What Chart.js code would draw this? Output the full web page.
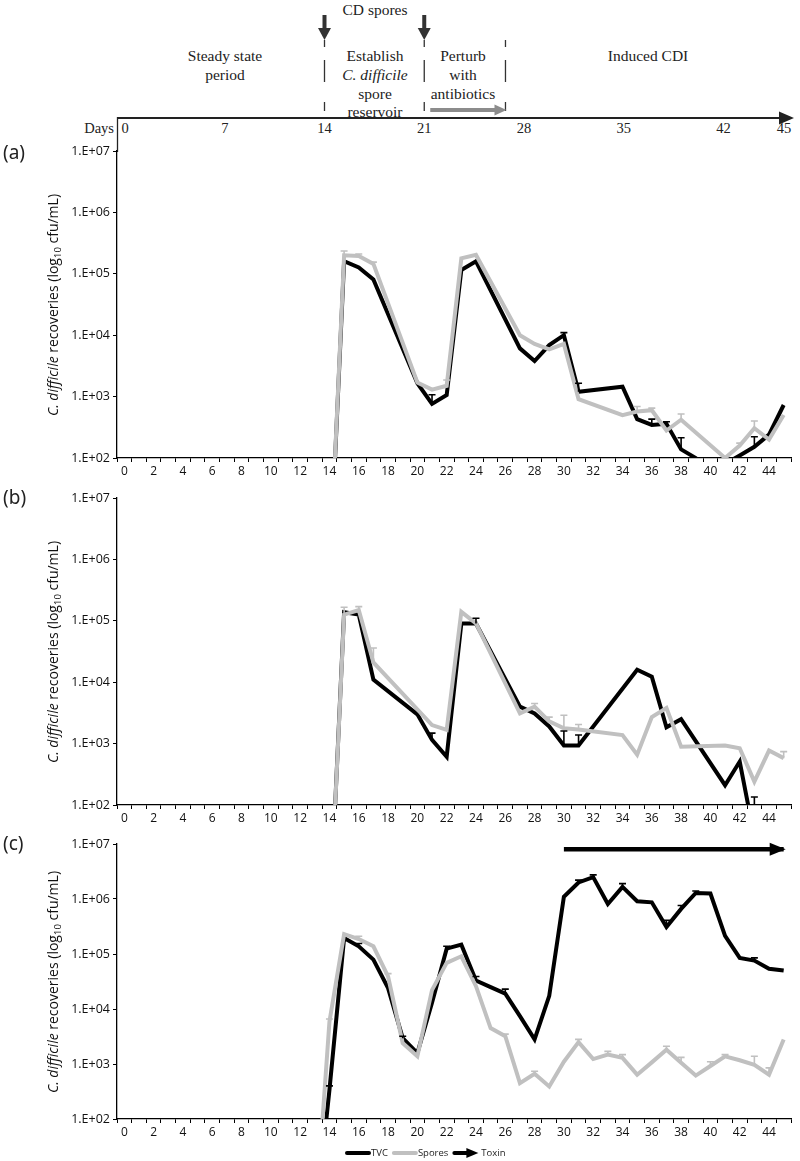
<!DOCTYPE html>
<html><head><meta charset="utf-8">
<script src="https://cdn.jsdelivr.net/npm/chart.js@4.4.1/dist/chart.umd.min.js"></script>
<style>
html,body{margin:0;padding:0;background:#fff;}
#page{position:relative;width:800px;height:1161px;overflow:hidden;background:#fff;}
#timeline{position:absolute;left:0;top:0;}
.cv{position:absolute;left:0;}
.plabel{position:absolute;left:3px;font-family:'Noto Sans',sans-serif;font-size:19px;line-height:20px;color:#222;}
.ytitle{position:absolute;left:54px;white-space:nowrap;font-family:'Open Sans',sans-serif;font-size:14px;line-height:16px;color:#111;transform:translate(-50%,-50%) rotate(-90deg);}
.ytitle .sub{font-size:9.5px;position:relative;top:3px;}
</style></head>
<body><div id="page">
<svg id="timeline" width="800" height="152" xmlns="http://www.w3.org/2000/svg"></svg>
<canvas id="ca" class="cv" width="800" height="340" style="top:140px"></canvas>
<canvas id="cb" class="cv" width="800" height="347" style="top:480px"></canvas>
<canvas id="cc" class="cv" width="800" height="334" style="top:827px"></canvas>
<div class="plabel" style="top:142px">(a)</div>
<div class="plabel" style="top:487px">(b)</div>
<div class="plabel" style="top:833px">(c)</div>
<div class="ytitle" style="top:305px"><i>C. difficile</i> recoveries (log<span class="sub">10</span> cfu/mL)</div>
<div class="ytitle" style="top:652px"><i>C. difficile</i> recoveries (log<span class="sub">10</span> cfu/mL)</div>
<div class="ytitle" style="top:982px"><i>C. difficile</i> recoveries (log<span class="sub">10</span> cfu/mL)</div>
</div>
<script>
// ---------------- data ----------------
const days = [0,1,2,3,4,5,6,7,8,9,10,11,12,13,14,15,16,17,18,19,20,21,22,23,24,25,26,27,28,29,30,31,32,33,34,35,36,37,38,39,40,41,42,43,44,45];
const yTickValues = [1e2, 1e3, 1e4, 1e5, 1e6, 1e7];
const yTickLabels = ['1.E+02','1.E+03','1.E+04','1.E+05','1.E+06','1.E+07'];
const timelineDays = [0, 7, 14, 21, 28, 35, 42, 45];
const seriesNames = ['TVC', 'Spores', 'Toxin'];

// panel (a)   (index = day)
const tvcA    = [null,null,null,null,null,null,null,null,null,null,null,null,null,null,1, 1.6e5, 1.27e5, 8.1e4, null,null,1.65e3,7.6e2,1.06e3,1.15e5,1.6e5, null,null,6.1e3, 3.8e3, 6.9e3, 1.0e4, 1.2e3, null,null,1.45e3,4.3e2,3.45e2,3.6e2,1.38e2,1.0e2,60, 80, 110, 1.52e2,2.4e2,7.3e2];
const sporesA = [null,null,null,null,null,null,null,null,null,null,null,null,null,null,1, 2.0e5, 1.95e5, 1.45e5,null,null,1.7e3, 1.3e3, 1.5e3, 1.78e5,2.03e5,null,null,1.0e4, 7.2e3, 5.9e3, 7.2e3, 9.1e2, null,null,5.0e2, 5.7e2,6.0e2, 2.8e2,4.2e2, null, null,1.0e2,1.6e2,3.05e2,2.0e2,5.0e2];
// panel (b)
const tvcB    = [null,null,null,null,null,null,null,null,null,null,null,null,null,null,1, 1.38e5,1.26e5, 1.1e4, null,null,3.0e3, 1.15e3,6.1e2, 9.0e4, 9.0e4, null,null,4.0e3, 3.1e3, 1.9e3, 9.3e2, 9.3e2, null,null,null, 1.6e4,1.23e4,1.85e3,2.5e3,null, null,2.1e2,5.1e2,30, null, null];
const sporesB = [null,null,null,null,null,null,null,null,null,null,null,null,null,null,1, 1.26e5,1.5e5,  2.1e4, null,null,null,  2.0e3, 1.67e3,1.4e5, 9.1e4, null,null,3.1e3, 4.0e3, 2.3e3, 1.78e3,1.7e3, null,null,1.38e3,6.6e2,2.7e3, 3.8e3,8.9e2, null, null,9.3e2,8.4e2,2.4e2,7.7e2,5.8e2];
// panel (c)
const tvcC    = [null,null,null,null,null,null,null,null,null,null,null,null,null,1, 3.4e2,1.95e5,1.38e5, 7.9e4, 2.4e4,2.95e3,1.58e3,1.3e4,1.25e5,1.48e5,3.3e4, 2.5e4,1.9e4,7.4e3, 2.8e3, 1.74e4,1.1e6, 2.0e6, 2.5e6,8.1e5,1.66e6,9.1e5,8.7e5,3.1e5,6.6e5,1.29e6,1.26e6,2.14e5,8.5e4,7.6e4,5.4e4,5.0e4];
const sporesC = [null,null,null,null,null,null,null,null,null,null,null,null,null,1, 5.9e3,2.3e5, 1.87e5, 1.38e5,3.9e4,2.4e3, 1.38e3,2.2e4,6.9e4, 9.1e4, 2.6e4, 4.5e3,3.2e3,4.5e2, 6.65e2,3.9e2, 1.1e3, 2.5e3, 1.23e3,1.48e3,1.29e3,6.4e2,1.07e3,1.82e3,1.05e3,6.15e2,9.2e2,1.38e3,1.17e3,9.7e2,6.4e2,2.8e3];
const toxinStart = 30, toxinEnd = 45, toxinLevel = 8e6;

// upper ends of error bars: [day, upper value]
const tvcErrA    = [[21,1.07e3],[30,1.1e4],[31,1.65e3],[36,4.3e2],[37,3.9e2],[38,2.14e2],[43,2.22e2]];
const sporesErrA = [[15,2.35e5],[16,2.1e5],[17,1.55e5],[22,1.86e3],[35,6.9e2],[36,6.5e2],[38,5.2e2],[42,1.75e2],[43,4.0e2]];
const tvcErrB    = [[21,1.48e3],[24,1.1e5],[30,1.6e3],[31,1.38e3],[43,1.35e2]];
const sporesErrB = [[15,1.66e5],[16,1.7e5],[17,3.6e4],[28,4.5e3],[29,2.7e3],[30,2.9e3],[31,2.05e3],[45,7.4e2]];
const tvcErrC    = [[14,4.0e2],[16,1.55e5],[19,3.2e3],[22,1.38e5],[24,3.9e4],[26,2.3e4],[31,2.2e6],[32,2.75e6],[34,1.9e6],[37,4.1e5],[38,7.6e5],[39,1.4e6],[43,8.5e4]];
const sporesErrC = [[14,6.6e3],[16,2.1e5],[18,4.4e4],[26,3.5e3],[28,7.4e2],[31,2.8e3],[33,1.7e3],[34,1.48e3],[37,2.1e3],[38,1.32e3],[40,1.1e3],[41,1.48e3],[43,1.38e3],[44,8.5e2]];

// ---------------- timeline (schematic) ----------------
(function(){
  const NS = 'http://www.w3.org/2000/svg';
  const svg = document.getElementById('timeline');
  const dayX = d => d === 45 ? 784 : 125 + d * 14.25;
  function el(tag, attrs, text){
    const e = document.createElementNS(NS, tag);
    for (const k in attrs) e.setAttribute(k, attrs[k]);
    if (text !== undefined) e.textContent = text;
    svg.appendChild(e); return e;
  }
  const serif = "'Liberation Serif','Times New Roman',serif";
  function txt(x, y, s, extra){ return el('text', Object.assign({x:x, y:y, 'text-anchor':'middle', 'font-family':serif, 'font-size':15.5, fill:'#222'}, extra||{}), s); }
  txt(375, 15, 'CD spores');
  [14, 21].forEach(d => {
    const x = dayX(d);
    el('line', {x1:x, y1:15, x2:x, y2:30, stroke:'#333', 'stroke-width':4});
    el('polygon', {points:`${x-6.5},28 ${x+6.5},28 ${x},40`, fill:'#333'});
  });
  [14, 21, 26.7].forEach(d => {
    const x = dayX(d);
    el('line', {x1:x, y1:40, x2:x, y2:111, stroke:'#333', 'stroke-width':1.3, 'stroke-dasharray':'7 13 22 20 9'});
  });
  txt(225, 61, 'Steady state'); txt(225, 80, 'period');
  txt(375, 61, 'Establish'); txt(375, 80, 'C. difficile', {'font-style':'italic'}); txt(375, 98.5, 'spore'); txt(375, 117, 'reservoir');
  txt(463, 61, 'Perturb'); txt(463, 80, 'with'); txt(463, 98.5, 'antibiotics');
  txt(648, 61, 'Induced CDI');
  // antibiotic arrow
  el('line', {x1:dayX(21)+6, y1:110, x2:dayX(26.7)-9, y2:110, stroke:'#8c8c8c', 'stroke-width':4});
  el('polygon', {points:`${dayX(26.7)-11},104.5 ${dayX(26.7)-11},115.5 ${dayX(26.7)+1},110`, fill:'#8c8c8c'});
  // days axis
  el('line', {x1:117.5, y1:118, x2:782, y2:118, stroke:'#222', 'stroke-width':2});
  el('polygon', {points:`779,111.5 779,124.5 794,118`, fill:'#222'});
  el('line', {x1:117.5, y1:117, x2:117.5, y2:152, stroke:'#222', 'stroke-width':1.3});
  el('text', {x:114, y:133, 'text-anchor':'end', 'font-family':serif, 'font-size':14.5, fill:'#222'}, 'Days');
  timelineDays.forEach(d => txt(dayX(d), 133, String(d), {'font-size':14.5}));
})();

// ---------------- charts ----------------
Chart.defaults.font.family = "'Open Sans', sans-serif";
Chart.defaults.color = '#111';

const errorBars = {
  id: 'errorBars',
  afterDatasetsDraw(chart) {
    const {ctx, chartArea: a, scales: {x, y}} = chart;
    ctx.save();
    ctx.beginPath(); ctx.rect(a.left, a.top - 3, a.right - a.left, a.bottom - a.top + 3); ctx.clip();
    chart.data.datasets.forEach(ds => {
      if (!ds.errs) return;
      ctx.strokeStyle = ds.borderColor; ctx.lineWidth = 1.6;
      ds.errs.forEach(([d, up]) => {
        const v = ds.data[d]; if (v == null) return;
        const px = x.getPixelForValue(d), p0 = y.getPixelForValue(v), p1 = y.getPixelForValue(up);
        ctx.beginPath(); ctx.moveTo(px, p0); ctx.lineTo(px, p1);
        ctx.moveTo(px - 3.5, p1); ctx.lineTo(px + 3.5, p1); ctx.stroke();
      });
    });
    ctx.restore();
  }
};

const arrowHeads = {
  id: 'arrowHeads',
  afterDatasetsDraw(chart) {
    const ctx = chart.ctx;
    chart.data.datasets.forEach((ds, i) => {
      if (!ds.arrow) return;
      const meta = chart.getDatasetMeta(i);
      let last = null;
      ds.data.forEach((v, j) => { if (v != null) last = meta.data[j]; });
      if (!last) return;
      ctx.save(); ctx.fillStyle = ds.borderColor;
      ctx.beginPath(); ctx.moveTo(last.x + 2, last.y); ctx.lineTo(last.x - 14, last.y - 6.5); ctx.lineTo(last.x - 14, last.y + 6.5); ctx.closePath(); ctx.fill();
      ctx.restore();
    });
  }
};

const bottomLegend = {
  id: 'bottomLegend',
  afterDraw(chart, args, opts) {
    if (!opts || !opts.show) return;
    const ctx = chart.ctx;
    const yy = chart.height - 8;
    let xx = 347;
    ctx.save();
    ctx.font = "9.5px 'Open Sans', sans-serif";
    ctx.textBaseline = 'middle'; ctx.fillStyle = '#222';
    chart.data.datasets.forEach(ds => {
      ctx.strokeStyle = ds.borderColor; ctx.fillStyle = ds.borderColor;
      if (ds.arrow) {
        ctx.lineWidth = 4; ctx.beginPath(); ctx.moveTo(xx, yy); ctx.lineTo(xx + 14, yy); ctx.stroke();
        ctx.beginPath(); ctx.moveTo(xx + 24, yy); ctx.lineTo(xx + 12, yy - 5); ctx.lineTo(xx + 12, yy + 5); ctx.closePath(); ctx.fill();
        xx += 27;
      } else {
        ctx.lineWidth = 4; ctx.lineCap = 'round'; ctx.beginPath(); ctx.moveTo(xx, yy); ctx.lineTo(xx + 22, yy); ctx.stroke();
        xx += 24;
      }
      ctx.fillStyle = '#222';
      ctx.fillText(ds.label, xx, yy);
      xx += ctx.measureText(ds.label).width + 6;
    });
    ctx.restore();
  }
};

function lineDataset(label, data, color, width, order, errs) {
  return {label, data, borderColor: color, backgroundColor: color, borderWidth: width, order,
    pointRadius: 0, tension: 0, spanGaps: true, clip: 0, fill: false, borderJoinStyle: 'miter', errs};
}

function makeChart(id, tvc, spores, tvcErr, sporeErr, withToxin, padTop, padBottom) {
  const datasets = [
    lineDataset(seriesNames[0], tvc, '#000000', 4, 1, tvcErr),
    lineDataset(seriesNames[1], spores, '#c0c0c0', 4, 0, sporeErr)
  ];
  if (withToxin) {
    const tox = lineDataset(seriesNames[2], days.map(d => (d === toxinStart || d === toxinEnd) ? toxinLevel : null), '#000000', 4.5, 2, null);
    tox.arrow = true;
    datasets.push(tox);
  }
  return new Chart(document.getElementById(id), {
    type: 'line',
    data: {labels: days.map(String), datasets},
    plugins: [errorBars, arrowHeads, bottomLegend],
    options: {
      responsive: false, animation: false, events: [],
      layout: {padding: {top: padTop, right: 9, bottom: padBottom, left: 0}},
      plugins: {legend: {display: false}, tooltip: {enabled: false}, bottomLegend: {show: withToxin}},
      scales: {
        x: {
          type: 'category', offset: true,
          grid: {display: true, drawOnChartArea: false, drawTicks: true, tickLength: 4, offset: true, color: '#000', lineWidth: 1},
          border: {display: true, color: '#000', width: 1.3},
          ticks: {autoSkip: false, maxRotation: 0, minRotation: 0, padding: 2, color: '#111',
            font: {size: 12, family: "'Open Sans', sans-serif"},
            callback: function(v, i) { return i % 2 === 0 ? this.getLabelForValue(v) : ''; }},
          afterFit: s => { s.height = 22; }
        },
        y: {
          type: 'logarithmic', min: yTickValues[0], max: yTickValues[yTickValues.length - 1],
          afterBuildTicks: s => { s.ticks = yTickValues.map(v => ({value: v})); },
          grid: {display: true, drawOnChartArea: false, drawTicks: true, tickLength: 4, color: '#000', lineWidth: 1},
          border: {display: true, color: '#000', width: 1.3},
          ticks: {padding: 3, color: '#111', font: {size: 12.5, family: "'Open Sans', sans-serif"},
            callback: (v, i) => yTickLabels[i]},
          afterFit: s => { s.width = 117; }
        }
      }
    }
  });
}

makeChart('ca', tvcA, sporesA, tvcErrA, sporesErrA, false, 11, 0);
makeChart('cb', tvcB, sporesB, tvcErrB, sporesErrB, false, 18, 0);
makeChart('cc', tvcC, sporesC, tvcErrC, sporesErrC, true, 17, 20);
</script>
</body></html>
